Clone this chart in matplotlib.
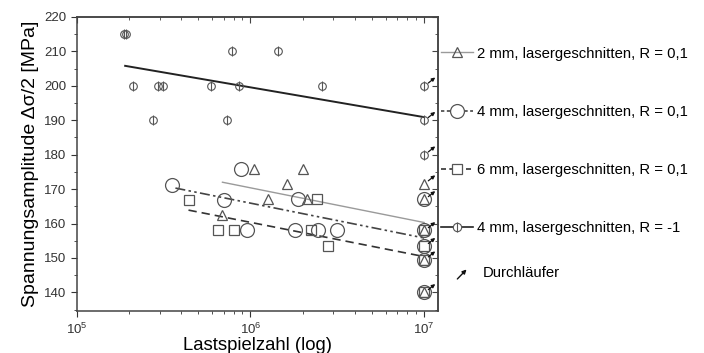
import matplotlib
matplotlib.use("Agg")
import matplotlib.pyplot as plt
from matplotlib.lines import Line2D
from matplotlib.patches import FancyArrowPatch
from matplotlib.legend_handler import HandlerBase
from matplotlib.ticker import MultipleLocator, NullFormatter
from matplotlib.transforms import offset_copy

plt.rcParams['font.family'] = ['Liberation Sans', 'DejaVu Sans']

# 2 mm, lasergeschnitten, R = 0,1  (triangles)
tri_n = [6.9e5, 1.05e6, 1.26e6, 1.62e6, 2.0e6, 2.12e6, 1e7, 1e7, 1e7, 1e7, 1e7]
tri_s = [162.6, 175.8, 167.1, 171.6, 175.8, 167.0, 171.6, 167.0, 158.0, 149.5, 140.0]
tri_fit_n = [6.9e5, 1e7]
tri_fit_s = [172.0, 160.3]

# 4 mm, lasergeschnitten, R = 0,1  (circles)
circ_n = [3.55e5, 7.0e5, 8.8e5, 9.5e5, 1.8e6, 1.87e6, 2.45e6, 3.15e6, 1e7, 1e7, 1e7, 1e7, 1e7]
circ_s = [171.3, 166.8, 175.8, 158.0, 158.0, 167.0, 158.0, 158.0, 167.0, 158.0, 153.4, 149.5, 140.0]
circ_fit_n = [3.7e5, 1e7]
circ_fit_s = [170.3, 155.8]

# 6 mm, lasergeschnitten, R = 0,1  (squares)
sq_n = [4.43e5, 6.5e5, 8.0e5, 2.23e6, 2.42e6, 2.8e6, 1e7, 1e7, 1e7, 1e7]
sq_s = [166.8, 158.0, 158.0, 158.0, 167.0, 153.4, 158.0, 153.4, 149.5, 140.0]
sq_fit_n = [4.4e5, 1e7]
sq_fit_s = [163.9, 150.4]

# 4 mm, lasergeschnitten, R = -1  (circle with bar)
phi_n = [1.88e5, 1.93e5, 2.1e5, 2.74e5, 2.93e5, 3.15e5, 5.9e5, 7.3e5, 7.8e5, 8.6e5,
         1.44e6, 2.57e6, 1e7, 1e7, 1e7]
phi_s = [215, 215, 200, 190, 200, 200, 200, 190, 210, 200, 210, 200, 200, 190, 180]
phi_fit_n = [1.9e5, 1e7]
phi_fit_s = [205.8, 190.9]

# Durchläufer (run-outs at 1e7)
runout_n = [1e7] * 9
runout_s = [200, 190, 180, 171.6, 167.0, 158.0, 153.4, 149.5, 140.0]

labels = ["2 mm, lasergeschnitten, R = 0,1",
          "4 mm, lasergeschnitten, R = 0,1",
          "6 mm, lasergeschnitten, R = 0,1",
          "4 mm, lasergeschnitten, R = -1",
          "Durchläufer"]

mc = "#555555"

fig = plt.figure(figsize=(7.04, 3.53), dpi=100)
ax = fig.add_axes([0.109, 0.118, 0.513, 0.834])
ax.set_xscale('log')

# fit lines
ax.plot(tri_fit_n, tri_fit_s, color="#9a9a9a", lw=1.0)
ax.plot(circ_fit_n, circ_fit_s, color="#444444", lw=1.2, dashes=(6, 2, 1.5, 2, 1.5, 2))
ax.plot(sq_fit_n, sq_fit_s, color="#333333", lw=1.2, dashes=(5, 3))
ax.plot(phi_fit_n, phi_fit_s, color="#222222", lw=1.4)

# markers
ax.plot(circ_n, circ_s, 'o', ms=10, mfc='none', mec=mc, mew=0.9)
ax.plot(sq_n, sq_s, 's', ms=6.5, mfc='none', mec=mc, mew=0.9)
ax.plot(tri_n, tri_s, '^', ms=6.5, mfc='none', mec=mc, mew=0.9)
ax.plot(phi_n, phi_s, 'o', ms=5.5, mfc='none', mec=mc, mew=0.8)
ax.plot(phi_n, phi_s, '|', ms=7, mec=mc, mew=0.8)

# run-out arrows
tail = offset_copy(ax.transData, fig=fig, x=3, y=2, units='points')
head = offset_copy(ax.transData, fig=fig, x=8, y=6, units='points')
for n, s in zip(runout_n, runout_s):
    ax.annotate('', xy=(n, s), xycoords=head, xytext=(n, s), textcoords=tail,
                arrowprops=dict(arrowstyle='-|>', color='#111111', lw=0.9,
                                mutation_scale=5, shrinkA=0, shrinkB=0))

ax.set_xlim(1e5, 1.2e7)
ax.set_ylim(134.5, 220)
ax.yaxis.set_major_locator(MultipleLocator(10))
ax.yaxis.set_minor_locator(MultipleLocator(5))
ax.tick_params(which='both', direction='out', labelsize=9.5, colors='#333333')
ax.tick_params(which='major', length=4)
ax.tick_params(which='minor', length=2.5)
for sp in ax.spines.values():
    sp.set_color('#444444')
    sp.set_linewidth(1.1)

secx = ax.secondary_xaxis('top')
secx.tick_params(which='both', direction='in', colors='#444444')
secx.tick_params(which='major', length=4)
secx.tick_params(which='minor', length=2.5)
secx.xaxis.set_major_formatter(NullFormatter())
secx.xaxis.set_minor_formatter(NullFormatter())
secy = ax.secondary_yaxis('right')
secy.yaxis.set_major_locator(MultipleLocator(10))
secy.yaxis.set_minor_locator(MultipleLocator(5))
secy.tick_params(which='both', direction='in', colors='#444444')
secy.tick_params(which='major', length=4)
secy.tick_params(which='minor', length=2.5)
secy.yaxis.set_major_formatter(NullFormatter())
for s in (secx, secy):
    for sp in s.spines.values():
        sp.set_color('#444444')
        sp.set_linewidth(1.1)

ax.set_xlabel("Lastspielzahl (log)", fontsize=13.3, labelpad=0)
ax.set_ylabel("Spannungsamplitude Δσ/2 [MPa]", fontsize=14, labelpad=4)

# legend
h_tri = (Line2D([], [], color="#9a9a9a", lw=1.0),
         Line2D([], [], ls='none', marker='^', ms=6.5, mfc='none', mec=mc, mew=0.9))
h_circ = (Line2D([], [], color="#444444", lw=1.2, dashes=(2, 1.5)),
          Line2D([], [], ls='none', marker='o', ms=10, mfc='white', mec=mc, mew=0.9))
h_sq = (Line2D([], [], color="#333333", lw=1.2, dashes=(3, 2)),
        Line2D([], [], ls='none', marker='s', ms=6.5, mfc='white', mec=mc, mew=0.9))
h_phi = (Line2D([], [], color="#222222", lw=1.2),
         Line2D([], [], ls='none', marker='o', ms=6, mfc='white', mec=mc, mew=0.8),
         Line2D([], [], ls='none', marker='|', ms=7, mec=mc, mew=0.8))


class ArrowHandler(HandlerBase):
    def create_artists(self, legend, orig_handle, xdescent, ydescent, width,
                       height, fontsize, trans):
        a = FancyArrowPatch((width * 0.45, -height * 0.4), (width * 0.85, height * 0.9),
                            arrowstyle='-|>', mutation_scale=6, color='#111111',
                            lw=1.0, transform=trans)
        return [a]


h_arrow = Line2D([], [])

fig.legend([h_tri, h_circ, h_sq, h_phi], labels[:4],
           loc='upper left', bbox_to_anchor=(0.626, 0.868),
           frameon=False, fontsize=10.7, handlelength=2.2, handletextpad=0.25,
           labelspacing=2.97, borderpad=0, borderaxespad=0)
fig.legend([h_arrow], labels[4:], handler_map={h_arrow: ArrowHandler()},
           loc='upper left', bbox_to_anchor=(0.626, 0.247),
           frameon=False, fontsize=10.7, handlelength=2.2, handletextpad=0.6,
           borderpad=0, borderaxespad=0)

fig.savefig("out.png", dpi=100)
